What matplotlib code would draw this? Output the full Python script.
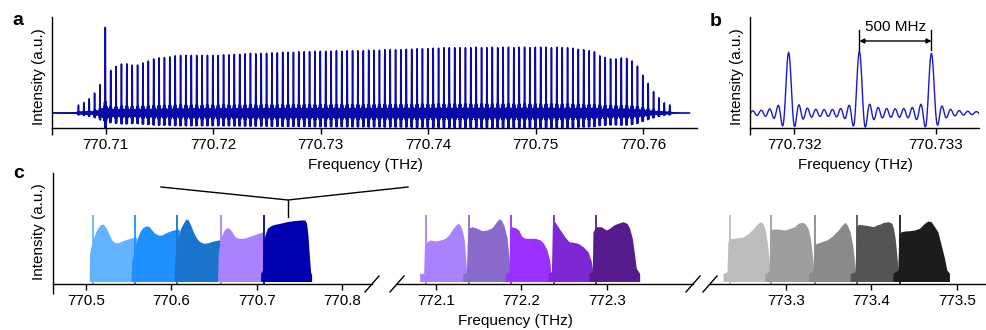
import numpy as np
import matplotlib.pyplot as plt
from matplotlib.lines import Line2D

plt.rcParams['font.family'] = ['Liberation Sans', 'DejaVu Sans']
plt.rcParams['font.size'] = 11
plt.rcParams['path.simplify'] = False

# ---------------- panel a: comb spectrum ----------------
comb_first = 770.70746      # THz, first visible tooth
comb_step = 0.0005          # THz (500 MHz)
comb_heights = [8, 10, 14, 20, 27, 85, 41, 46, 48, 48, 47, 47, 49, 51, 53, 54, 54.5, 55, 56,
                56.5, 56.5, 56.5, 56.5, 56.5, 56.5, 56.5, 56.5, 57, 57, 57.5, 57.5, 58, 58.5, 58,
                58.5, 58.5, 59, 59, 59.5, 59.5, 59.5, 60, 60, 60, 60.5, 60.5,
                60.5, 60.5, 61, 60.5, 61, 61, 61, 61, 61.5, 61.5, 61.5, 62,
                62, 62, 62, 62.5, 62.5, 63, 63, 63, 63.5, 63.5, 64, 64, 64, 64,
                64, 64, 64.5, 64, 64, 64.5, 64, 64.5, 64.5, 64, 64.5, 64.5, 64, 64.5, 64.5, 64.5,
                64, 64.5, 64, 64, 63.5,
                62.5, 62, 61, 60, 56, 54.5, 53, 53, 54, 53.5, 51, 46, 37, 29, 21, 15, 10, 8]
line_width = 3e-5           # THz, sinc instrument line width
a_range = (770.7051, 770.7643)
a_ticks = [770.71, 770.72, 770.73, 770.74, 770.75, 770.76]

# ---------------- panel b: three neighbouring teeth ----------------
b_peaks = [770.73196, 770.73246, 770.73297]
b_heights = [60, 60.5, 60]
b_range = (770.73169, 770.73331)
b_ticks = [770.732, 770.733]

# ---------------- panel c: stitched spectra ----------------
# spike positions (THz), envelope offsets (GHz from spike) and heights (a.u.)
c_left_spikes = [770.508, 770.557, 770.607, 770.658, 770.709]
c_left_colors = ['#63b3ff', '#1e90ff', '#1a74cc', '#a982ff', '#0000b0']
c_left_off = [
    [-4.3, -3.9, -2.3, 0, 2.7, 5.5, 8.6, 11.3, 13.3, 16.4, 19.5, 22.2, 26.1, 30.0, 33.9, 39.8, 43.7, 47.6, 51.5, 52.3],
    [-4.3, -3.5, -1.6, 0.4, 3.1, 6.2, 9.4, 14.0, 17.2, 19.9, 23.8, 27.7, 31.6, 35.5, 39.4, 45.2, 49.1, 52.3, 53.0],
    [-3.9, -2.7, -0.8, 1.6, 3.9, 7.0, 10.1, 12.9, 15.6, 18.7, 22.6, 26.5, 31.2, 36.3, 42.1, 48.0, 51.9, 52.7],
    [-3.9, -3.1, -1.6, 1.2, 3.9, 7.0, 10.1, 12.9, 16.8, 20.7, 26.5, 32.4, 38.2, 44.1, 49.9, 52.3],
    [-4.3, -4.3, -2.0, -1.2, 0.8, 3.5, 7.4, 12.5, 18.3, 26.1, 33.9, 41.7, 47.6, 49.5, 51.1, 52.7, 54.2, 55.4, 55.4],
]
c_left_h = [
    [2.5, 30.7, 37.3, 44, 50.7, 55.7, 59, 60, 59, 55, 49, 44, 41.3, 41.3, 43, 44.7, 45.7, 46.7, 46.7, 2.5],
    [2.5, 22.3, 29, 37.3, 45.7, 52.3, 56.3, 58.3, 57.3, 54, 50.7, 49, 49, 50.7, 52.3, 54, 54.7, 54.7, 2.5],
    [2.5, 25.7, 39, 49, 55.7, 60.7, 65, 64, 59, 52.3, 45.7, 42.3, 40.7, 41.3, 43, 44, 44, 2.5],
    [2.5, 29, 39, 49, 54, 56.3, 55.7, 52.3, 47.3, 45.7, 45.7, 47.3, 49, 50.7, 52.3, 2.5],
    [2.5, 10.7, 14, 39, 49, 55.7, 58.3, 59.7, 60.7, 62.3, 63.3, 64, 64, 60.7, 49, 29, 12.3, 9, 2.5],
]

c_mid_spikes = [772.089, 772.139, 772.188, 772.238, 772.287]
c_mid_colors = ['#a882ff', '#8a6acb', '#9b30ff', '#7d28d4', '#561b8d']
c_mid_off = [
    [-7.8, -7.8, -3.1, -2.3, 0.8, 4.7, 10.5, 16.4, 22.2, 26.1, 30.0, 33.9, 36.7, 39.8, 42.5, 44.5, 46.0, 47.6, 47.6],
    [-7.4, -7.4, -3.1, -2.3, -0.8, 3.5, 9.4, 15.2, 21.1, 26.9, 30.8, 34.7, 37.8, 41.3, 44.5, 46.8, 48.4, 48.4],
    [-6.6, -6.6, -2.3, -1.6, 0.4, 5.1, 9.0, 12.9, 16.8, 22.6, 28.5, 34.3, 38.2, 42.1, 45.2, 46.8, 48.0, 48.0],
    [-6.6, -6.6, -2.7, -1.6, 1.2, 5.1, 9.0, 12.9, 17.9, 23.4, 28.5, 34.3, 40.2, 44.1, 46.0, 46.8, 46.8],
    [-7.8, -7.8, -3.9, -3.1, 0.8, 6.6, 12.5, 16.4, 21.1, 26.1, 32.0, 36.7, 39.8, 42.9, 45.6, 47.6, 51.5, 51.5],
]
c_mid_h = [
    [2.5, 10.7, 10.7, 35.7, 42.3, 44, 43, 44, 45.7, 49, 54, 58.3, 60.7, 59, 52.3, 42.3, 25.7, 7.3, 2.5],
    [2.5, 10.7, 10.7, 39, 55.7, 57.3, 55.7, 53.3, 54, 56.3, 60.7, 65, 64, 57.3, 45.7, 25.7, 7.3, 2.5],
    [2.5, 10.7, 12.3, 52.3, 57.3, 56.3, 54, 47.3, 45.7, 45.7, 45.7, 44, 40.7, 34, 24, 10.7, 7.3, 2.5],
    [2.5, 10.7, 12.3, 59, 62.3, 57.3, 52.3, 47.3, 42.3, 41.7, 40.7, 37.3, 32.3, 22.3, 10.7, 7.3, 2.5],
    [2.5, 10.7, 12.3, 52.3, 57.3, 57.3, 54, 55.7, 59, 60.7, 62.3, 60.7, 55.7, 45.7, 29, 15.7, 10.7, 2.5],
]

c_right_spikes = [773.234, 773.283, 773.334, 773.383, 773.433]
c_right_colors = ['#bdbdbd', '#9e9e9e', '#8a8a8a', '#545454', '#1c1c1c']
c_right_off = [
    [-7.8, -7.8, -3.1, -2.0, 0, 4.7, 10.5, 16.4, 22.2, 28.1, 32.0, 35.9, 39.0, 41.7, 44.5, 46.8, 48.4, 48.4],
    [-7.8, -7.8, -2.7, -2.0, 2.0, 7.8, 15.6, 21.5, 27.3, 31.2, 35.1, 39.0, 42.9, 45.6, 48.0, 49.5, 49.5],
    [-7.8, -7.8, -2.7, -1.2, 2.0, 7.8, 13.7, 19.5, 23.4, 27.3, 31.2, 35.1, 37.8, 41.0, 44.1, 46.8, 48.0, 48.0],
    [-7.8, -7.8, -2.0, -0.8, 2.0, 7.8, 13.7, 19.5, 23.4, 27.3, 31.2, 37.1, 41.0, 42.9, 44.9, 46.8, 48.8, 49.9, 49.9],
    [-7.8, -7.8, -2.0, -0.8, 2.0, 5.9, 11.7, 17.6, 23.4, 29.3, 33.2, 37.1, 41.0, 44.9, 48.8, 52.7, 55.4, 58.5, 58.5],
]
c_right_h = [
    [2.5, 10.7, 12.3, 42.3, 45.7, 45.7, 46.3, 47.3, 50.7, 55.7, 59.7, 62.3, 60.7, 54, 39, 19, 7.3, 2.5],
    [2.5, 10.7, 12.3, 54, 55, 55, 54, 55.7, 57.3, 60.7, 61.7, 60.7, 55.7, 45.7, 29, 9, 2.5],
    [2.5, 10.7, 12.3, 39, 40.7, 42.3, 44, 47.3, 50.7, 54, 58.3, 61.7, 59, 52.3, 39, 19, 7.3, 2.5],
    [2.5, 10.7, 12.3, 57.3, 59.7, 59, 58.3, 57.3, 59, 60, 61.7, 62.3, 60.7, 55.7, 45.7, 29, 10.7, 7.3, 2.5],
    [2.5, 10.7, 14, 49, 52.3, 53, 53.3, 54, 55.7, 60.7, 63, 62.3, 57.3, 52.3, 39, 25.7, 14, 10.7, 2.5],
]
c_spike_height = 69
c_floor = 2.5
c_left_ticks = [770.5, 770.6, 770.7, 770.8]
c_mid_ticks = [772.1, 772.2, 772.3]
c_right_ticks = [773.3, 773.4, 773.5]

# ---------------- layout helpers (pixel based) ----------------
W, H = 987, 330
fig = plt.figure(figsize=(W / 100, H / 100), dpi=100)


def px_axes(left, top, right, bottom):
    return fig.add_axes([left / W, 1 - bottom / H, (right - left) / W, (bottom - top) / H])


def style(ax, ticks, fmt, left_spine=True, stub=7):
    for s in ('top', 'right'):
        ax.spines[s].set_visible(False)
    if not left_spine:
        ax.spines['left'].set_visible(False)
    for sp in ax.spines.values():
        sp.set_linewidth(1.0)
    ax.set_yticks([])
    ax.set_xticks(ticks, [fmt % t for t in ticks])
    ax.tick_params(axis='x', direction='out', length=4, width=1, pad=3, labelsize=11)
    ax.patch.set_alpha(0)
    if left_spine:
        h = ax.get_position().height * H
        ax.plot([0, 0], [0, -stub / h], transform=ax.transAxes, color='k', lw=1,
                clip_on=False, solid_capstyle='butt')


def break_mark(ax, xfrac):
    pos = ax.get_position()
    dx = 7 / (pos.width * W)
    dy = 8 / (pos.height * H)
    ax.plot([xfrac - dx, xfrac + dx], [-dy, dy], transform=ax.transAxes, color='k',
            lw=1, clip_on=False)


def sinc_comb(freqs, centres, heights):
    y = np.zeros_like(freqs)
    for f0, h in zip(centres, heights):
        y += h * np.sinc((freqs - f0) / line_width)
    return y


def fig_text(x, y, s, **kw):
    fig.text(x / W, 1 - y / H, s, **kw)


# ---------------- panel a ----------------
ax_a = px_axes(52, 17, 697, 128)
fa = np.arange(a_range[0], a_range[1], 1e-6)
teeth = comb_first + comb_step * np.arange(len(comb_heights))
ax_a.plot(fa, sinc_comb(fa, teeth, comb_heights), color='#0a0aa8', lw=1.15)
ax_a.set_xlim(770.705, 770.765)
ax_a.set_ylim(-15, 96)
style(ax_a, a_ticks, '%.2f')

# ---------------- panel b ----------------
ax_b = px_axes(750, 17, 979, 128)
fb = np.arange(b_range[0], b_range[1], 2e-7)
ax_b.plot(fb, sinc_comb(fb, b_peaks, b_heights), color='#1a1acc', lw=1.0)
ax_b.set_xlim(770.731687, 770.733306)
ax_b.set_ylim(-15, 96)
style(ax_b, b_ticks, '%.3f')
for p in b_peaks[1:]:
    ax_b.plot([p, p], [63, 83], color='k', lw=1, clip_on=False)
ax_b.annotate('', xy=(b_peaks[2], 72), xytext=(b_peaks[1], 72),
              arrowprops=dict(arrowstyle='<|-|>', color='k', lw=1, shrinkA=0, shrinkB=0,
                              mutation_scale=7))
ax_b.text((b_peaks[1] + b_peaks[2]) / 2, 86, '500 MHz', ha='center', va='center', size=11)

# ---------------- panel c ----------------
ax_c1 = px_axes(53, 173, 372, 284)
ax_c2 = px_axes(397, 173, 693, 284)
ax_c3 = px_axes(710, 173, 986, 284)
groups = [
    (ax_c1, c_left_spikes, c_left_colors, c_left_off, c_left_h, (770.4613, 770.8352), c_left_ticks),
    (ax_c2, c_mid_spikes, c_mid_colors, c_mid_off, c_mid_h, (772.0547, 772.4009), c_mid_ticks),
    (ax_c3, c_right_spikes, c_right_colors, c_right_off, c_right_h, (773.2110, 773.5343), c_right_ticks),
]
for i, (ax, spikes, colors, offs, hs, lim, ticks) in enumerate(groups):
    for s, c, off, h in zip(spikes, colors, offs, hs):
        x = s + np.array(off) / 1000.0
        ax.fill_between(x, c_floor, h, color=c, lw=0)
        ax.vlines(s, 0, c_spike_height, color=c, lw=1.3)
    ax.set_xlim(*lim)
    ax.set_ylim(0, 111)
    style(ax, ticks, '%.1f', left_spine=(i == 0), stub=10)

break_mark(ax_c1, 1.0)
break_mark(ax_c2, 0.0)
break_mark(ax_c2, 1.0)
break_mark(ax_c3, 0.0)

# zoom connector from panel a down to the dark blue spectrum
for xs, ys in (([161, 288, 408], [187, 200, 187]), ([288, 288], [200, 217])):
    fig.add_artist(Line2D([x / W for x in xs], [1 - y / H for y in ys],
                          transform=fig.transFigure, color='k', lw=1))

# ---------------- labels ----------------
fig_text(365, 165, 'Frequency (THz)', ha='center', va='center', size=11)
fig_text(855, 165, 'Frequency (THz)', ha='center', va='center', size=11)
fig_text(515, 321, 'Frequency (THz)', ha='center', va='center', size=11)
for x, y in ((39, 77), (737, 77), (39, 232)):
    fig_text(x, y, 'Intensity (a.u.)', ha='center', va='center', rotation=90, size=11)
fig_text(18, 25, 'a', weight='bold', size=14, ha='center', va='baseline')
fig_text(716, 26, 'b', weight='bold', size=14, ha='center', va='baseline')
fig_text(19, 178, 'c', weight='bold', size=14, ha='center', va='baseline')

fig.savefig('out.png', dpi=100)
